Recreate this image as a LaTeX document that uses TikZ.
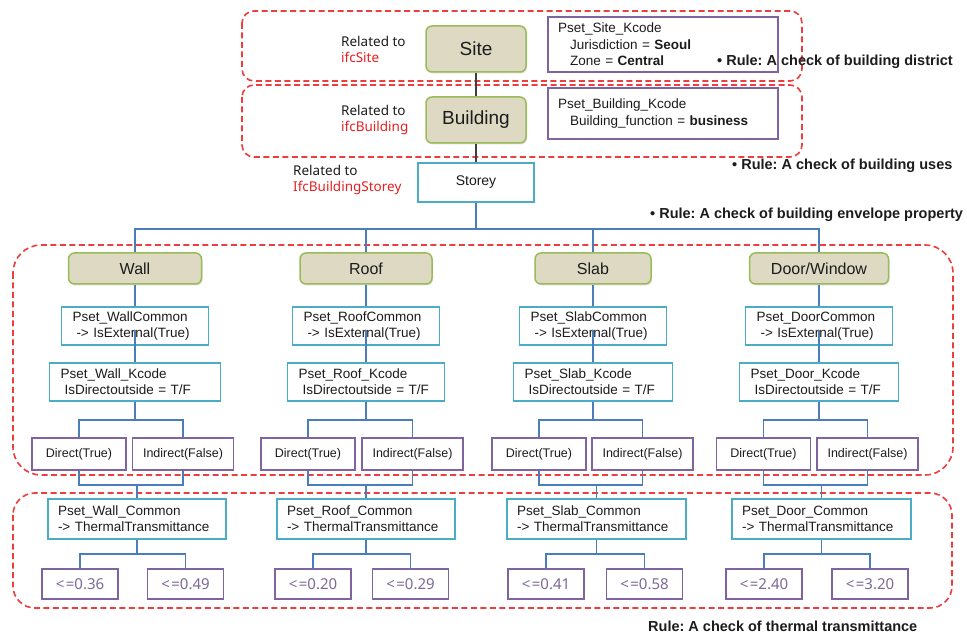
\documentclass[tikz,border=0pt]{standalone}
\usepackage{fontspec}
\setmainfont{Liberation Sans}
\newfontfamily\kfont{Noto Sans}
\usetikzlibrary{shadows}
\frenchspacing

\definecolor{dashred}{RGB}{236,62,62}
\definecolor{tanfill}{RGB}{221,217,195}
\definecolor{greenline}{RGB}{155,187,89}
\definecolor{aqua}{RGB}{75,172,198}
\definecolor{purp}{RGB}{128,100,162}
\definecolor{wire}{RGB}{74,126,187}
\definecolor{valtxt}{RGB}{125,105,152}
\definecolor{ifcred}{RGB}{232,32,32}
\definecolor{ink}{RGB}{28,28,28}

\begin{document}
\begin{tikzpicture}[x=1pt,y=-1pt,
  zone/.style={draw=dashred, line width=1.6pt, dash pattern=on 6pt off 3.5pt},
  elem/.style={draw=greenline, fill=tanfill, line width=1.5pt, rounded corners=6pt,
    inner sep=0pt, text=ink,
    drop shadow={shadow xshift=1pt, shadow yshift=-1.5pt, opacity=0.25}},
  tealbox/.style={draw=aqua, fill=white, line width=1.4pt, inner sep=0pt, text=ink,
    font=\fontsize{13.5}{16}\selectfont},
  purpbox/.style={draw=purp, fill=white, line width=1.4pt, inner sep=0pt, text=ink,
    font=\fontsize{13.5}{16.5}\selectfont},
  leftbox/.style={align=left, inner xsep=#1, inner ysep=0pt},
  choice/.style={draw=purp, fill=white, line width=1.4pt, inner sep=0pt, text=ink,
    minimum height=32pt, font=\fontsize{12.5}{15}\selectfont},
  limit/.style={draw=purp, fill=white, line width=1.4pt, inner sep=0pt, text=valtxt,
    minimum width=76pt, minimum height=30pt, font=\kfont\fontsize{15}{18}\selectfont},
  related/.style={align=left, inner sep=0pt, anchor=west, text=ink,
    font=\kfont\fontsize{13.5}{16}\selectfont},
  rulelabel/.style={inner sep=0pt, anchor=west, text=ink,
    font=\bfseries\fontsize{14.5}{17}\selectfont},
  conn/.style={draw=wire, line width=1.3pt},
  darkconn/.style={draw=ink!85, line width=1.4pt}
]
\useasboundingbox (0,0) rectangle (967,636);
\fill[white] (0,0) rectangle (967,636);

% ---------- dashed rule zones ----------
\draw[zone, rounded corners=12pt] (242,11) rectangle (802,81);
\draw[zone, rounded corners=12pt] (242,85) rectangle (802,157);
\draw[zone, rounded corners=28pt] (13,245) rectangle (953,475);
\draw[zone, rounded corners=22pt] (13,493) rectangle (952,608);

% ---------- site / building / storey ----------
\node[elem, minimum width=100pt, minimum height=46pt, font=\fontsize{19}{22}\selectfont] (site) at (476,49) {Site};
\node[elem, minimum width=100pt, minimum height=46pt, font=\fontsize{19}{22}\selectfont] (bldg) at (476,120) {Building};
\node[tealbox, minimum width=116pt, minimum height=39pt, font=\fontsize{14}{16}\selectfont] (storey) at (476,182.5) {Storey};

\draw[darkconn] (site.south) -- (bldg.north);
\draw[darkconn] (bldg.south) -- (storey.north);

\node[related] (relsite) at (341,49) {Related to\\\textcolor{ifcred}{ifcSite}};
\node[related] (relbldg) at (341,120) {Related to\\\textcolor{ifcred}{ifcBuilding}};
\node[related] (relstorey) at (293,180) {Related to\\\textcolor{ifcred}{IfcBuildingStorey}};

\node[purpbox, leftbox=10pt, text width=210pt, minimum width=230pt, minimum height=55pt] (psite) at (663,44.5)
  {Pset\_Site\_Kcode\\\hspace*{12pt}Jurisdiction = \textbf{Seoul}\\\hspace*{12pt}Zone = \textbf{Central}};
\node[purpbox, leftbox=10pt, text width=210pt, minimum width=230pt, minimum height=51pt] (pbldg) at (663,113.5)
  {Pset\_Building\_Kcode\\\hspace*{12pt}Building\_function = \textbf{business}};

\node[rulelabel] (rdistrict) at (717,62) {• Rule: A check of building district};
\node[rulelabel] (ruses) at (732,166) {• Rule: A check of building uses};
\node[rulelabel] (renvelope) at (650,215) {• Rule: A check of building envelope property};
\node[rulelabel] (rthermal) at (648,626) {Rule: A check of thermal transmittance};

% ---------- building elements ----------
\node[elem, minimum width=133pt, minimum height=31pt, font=\fontsize{16}{19}\selectfont] (wall) at (135,268.5) {Wall};
\node[elem, minimum width=132pt, minimum height=31pt, font=\fontsize{16}{19}\selectfont] (roof) at (366,268.5) {Roof};
\node[elem, minimum width=116pt, minimum height=31pt, font=\fontsize{16}{19}\selectfont] (slab) at (593,268.5) {Slab};
\node[elem, minimum width=139pt, minimum height=31pt, font=\fontsize{16}{19}\selectfont] (door) at (819,268.5) {Door/Window};

\coordinate (bus) at (476,229);
\draw[conn] (storey.south) -- (bus);
\draw[conn] (wall.north) |- (bus);
\draw[conn] (roof.north) |- (bus);
\draw[conn] (slab.north) |- (bus);
\draw[conn] (door.north) |- (bus);

% common property sets
\node[tealbox, leftbox=11pt, text width=125pt, minimum width=147pt, minimum height=38pt] (wallc) at (135,326)
  {Pset\_WallCommon\\\hspace*{4pt}-> IsExternal(True)};
\node[tealbox, leftbox=11pt, text width=125pt, minimum width=147pt, minimum height=38pt] (roofc) at (366,326)
  {Pset\_RoofCommon\\\hspace*{4pt}-> IsExternal(True)};
\node[tealbox, leftbox=11pt, text width=125pt, minimum width=147pt, minimum height=38pt] (slabc) at (593,326)
  {Pset\_SlabCommon\\\hspace*{4pt}-> IsExternal(True)};
\node[tealbox, leftbox=11pt, text width=125pt, minimum width=147pt, minimum height=38pt] (doorc) at (819,326)
  {Pset\_DoorCommon\\\hspace*{4pt}-> IsExternal(True)};

% K-code property sets
\node[tealbox, leftbox=11pt, text width=149pt, minimum width=171pt, minimum height=38pt] (wallk) at (135,382)
  {Pset\_Wall\_Kcode\\\hspace*{4pt}IsDirectoutside = T/F};
\node[tealbox, leftbox=11pt, text width=135pt, minimum width=157pt, minimum height=38pt] (roofk) at (366,382)
  {Pset\_Roof\_Kcode\\\hspace*{4pt}IsDirectoutside = T/F};
\node[tealbox, leftbox=11pt, text width=137pt, minimum width=159pt, minimum height=38pt] (slabk) at (593,382)
  {Pset\_Slab\_Kcode\\\hspace*{4pt}IsDirectoutside = T/F};
\node[tealbox, leftbox=11pt, text width=137pt, minimum width=159pt, minimum height=38pt] (doork) at (819,382)
  {Pset\_Door\_Kcode\\\hspace*{4pt}IsDirectoutside = T/F};

\foreach \e in {wall,roof,slab,door}{
  \draw[conn] (\e.south) -- (\e.south |- \e c.north);
  \draw[conn] ([yshift=-4pt]\e c.center) -- (\e c.center |- \e k.north);
}

% direct / indirect
\node[choice, minimum width=94pt] (walld) at (79,454) {Direct(True)};
\node[choice, minimum width=101pt] (walli) at (183,454) {Indirect(False)};
\node[choice, minimum width=94pt] (roofd) at (308,454) {Direct(True)};
\node[choice, minimum width=101pt] (roofi) at (412.5,454) {Indirect(False)};
\node[choice, minimum width=94pt] (slabd) at (539,454) {Direct(True)};
\node[choice, minimum width=101pt] (slabi) at (642.5,454) {Indirect(False)};
\node[choice, minimum width=94pt] (doord) at (763.5,454) {Direct(True)};
\node[choice, minimum width=101pt] (doori) at (867.5,454) {Indirect(False)};

\foreach \e/\x in {wall/135,roof/366,slab/593,door/819}{
  \coordinate (\e split) at (\x,420);
  \draw[conn] (\e k.south) -- (\e split);
  \draw[conn] (\e d.north) |- (\e split);
  \draw[conn] (\e i.north) |- (\e split);
}

% thermal transmittance property sets
\node[tealbox, leftbox=10pt, text width=158pt, minimum width=178pt, minimum height=40pt] (wallt) at (137,519)
  {Pset\_Wall\_Common\\-> ThermalTransmittance};
\node[tealbox, leftbox=10pt, text width=158pt, minimum width=178pt, minimum height=40pt] (rooft) at (366,519)
  {Pset\_Roof\_Common\\-> ThermalTransmittance};
\node[tealbox, leftbox=10pt, text width=159pt, minimum width=179pt, minimum height=40pt] (slabt) at (596.5,519)
  {Pset\_Slab\_Common\\-> ThermalTransmittance};
\node[tealbox, leftbox=10pt, text width=159pt, minimum width=179pt, minimum height=40pt] (doort) at (821.5,519)
  {Pset\_Door\_Common\\-> ThermalTransmittance};

\foreach \e/\x in {wall/137,roof/366,slab/596.5,door/821.5}{
  \coordinate (\e merge) at (\x,485);
  \draw[conn] (\e d.south) |- (\e merge);
  \draw[conn] (\e i.south) |- (\e merge);
  \draw[conn] (\e merge) -- (\e t.north);
}

% limit values
\node[limit] (wallv1) at (80,584) {<\kern1.5pt=0.36};
\node[limit] (wallv2) at (185.5,584) {<\kern1.5pt=0.49};
\node[limit] (roofv1) at (313,584) {<\kern1.5pt=0.20};
\node[limit] (roofv2) at (410.5,584) {<\kern1.5pt=0.29};
\node[limit] (slabv1) at (546,584) {<\kern1.5pt=0.41};
\node[limit] (slabv2) at (644.5,584) {<\kern1.5pt=0.58};
\node[limit] (doorv1) at (764,584) {<\kern1.5pt=2.40};
\node[limit] (doorv2) at (870,584) {<\kern1.5pt=3.20};

\foreach \e/\x in {wall/137,roof/366,slab/596.5,door/821.5}{
  \coordinate (\e vsplit) at (\x,554);
  \draw[conn] (\e t.south) -- (\e vsplit);
  \draw[conn] (\e v1.north) |- (\e vsplit);
  \draw[conn] (\e v2.north) |- (\e vsplit);
}
\end{tikzpicture}
\end{document}
